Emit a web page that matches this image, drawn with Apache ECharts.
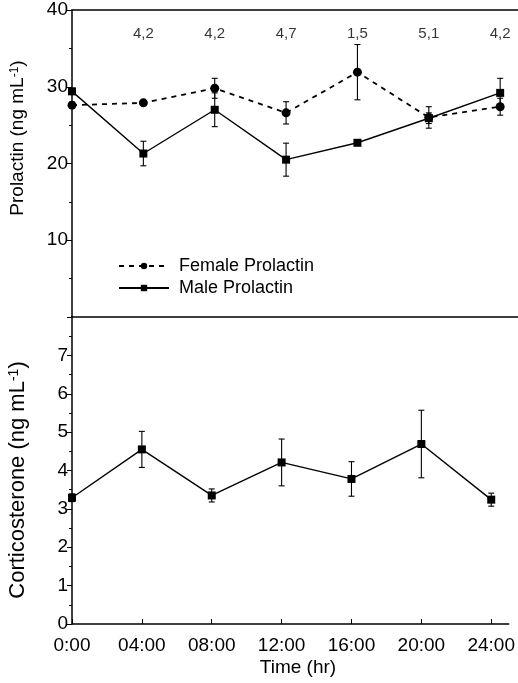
<!DOCTYPE html>
<html>
<head>
<meta charset="utf-8">
<script src="https://cdn.jsdelivr.net/npm/echarts@6/dist/echarts.min.js"></script>
<style>
html,body{margin:0;padding:0;background:#fff;}
#chart{width:518px;height:683px;}
</style>
</head>
<body>
<div id="chart"></div>
<script>
// time points (hr)
var times = [0, 4, 8, 12, 16, 20, 24];
var timeLabels = ['0:00', '04:00', '08:00', '12:00', '16:00', '20:00', '24:00'];

// prolactin, ng/mL (mean and half error bar)
var femaleProl = [27.6, 27.9, 29.8, 26.6, 31.9, 26.0, 27.4];
var femaleProlErr = [0.4, 0.3, 1.3, 1.45, 3.6, 1.4, 1.1];
var maleProl = [29.4, 21.3, 27.0, 20.5, 22.7, 25.9, 29.2];
var maleProlErr = [0.4, 1.6, 2.2, 2.15, 0.3, 0.7, 1.9];

// corticosterone, ng/mL
var cort = [3.29, 4.55, 3.35, 4.21, 3.78, 4.69, 3.24];
var cortErr = [0.1, 0.47, 0.17, 0.61, 0.45, 0.88, 0.17];

// numbers written above the top panel
var noteTimes = [4, 8, 12, 16, 20, 24];
var noteText = ['4,2', '4,2', '4,7', '1,5', '5,1', '4,2'];

var font = 'Liberation Sans, Arial, sans-serif';

function pairs(xs, ys){
	var out = [];
	for(var i=0;i<xs.length;i++){
		out.push([xs[i], ys[i]]);
	}
	return out;
}
function errData(xs, ys, es){
	var out = [];
	for(var i=0;i<xs.length;i++){
		out.push([xs[i], ys[i]-es[i], ys[i]+es[i]]);
	}
	return out;
}
function errRender(params, api){
	var x = api.value(0);
	var top = api.coord([x, api.value(2)]);
	var bot = api.coord([x, api.value(1)]);
	var w = 3;
	var st = {stroke:'#000', lineWidth:1.1};
	return {
		type:'group',
		children:[
			{type:'line', shape:{x1:top[0], y1:top[1], x2:bot[0], y2:bot[1]}, style:st},
			{type:'line', shape:{x1:top[0]-w, y1:top[1], x2:top[0]+w, y2:top[1]}, style:st},
			{type:'line', shape:{x1:bot[0]-w, y1:bot[1], x2:bot[0]+w, y2:bot[1]}, style:st}
		]
	};
}

var myChart = echarts.init(document.getElementById('chart'));

var lineOnly = {
	min:0, max:25,
	axisLine:{show:true, lineStyle:{color:'#000', width:1.5}},
	axisTick:{show:false},
	axisLabel:{show:false},
	splitLine:{show:false}
};

var option = {
	animation:false,
	backgroundColor:'#fff',
	textStyle:{fontFamily:font, color:'#000'},
	grid:[
		{left:72, top:10, width:447, height:307},
		{left:72, top:317, width:447, height:307}
	],
	legend:{
		orient:'vertical',
		left:113,
		top:252,
		itemWidth:50,
		itemHeight:8,
		itemGap:4,
		data:['Female Prolactin', 'Male Prolactin'],
		textStyle:{fontSize:18, color:'#000', fontFamily:font, padding:[0,0,0,5]}
	},
	xAxis:[
		Object.assign({gridIndex:0, type:'value', position:'bottom'}, lineOnly),
		Object.assign({gridIndex:0, type:'value', position:'top'}, lineOnly),
		{
			gridIndex:1, type:'value', position:'bottom',
			min:0, max:25, interval:4,
			axisLine:{show:true, lineStyle:{color:'#000', width:1.5}},
			axisTick:{show:true, inside:true, length:5, customValues:times, lineStyle:{color:'#000'}},
			axisLabel:{
				customValues:times,
				margin:12,
				fontSize:19,
				color:'#000',
				fontFamily:font,
				formatter:function(v){
					var i = times.indexOf(v);
					return i < 0 ? '' : timeLabels[i];
				}
			},
			splitLine:{show:false}
		}
	],
	yAxis:[
		{
			gridIndex:0, type:'value', min:0, max:40, interval:10,
			axisLine:{show:true, lineStyle:{color:'#000', width:1.5}},
			axisTick:{show:true, length:5, lineStyle:{color:'#000'}},
			minorTick:{show:true, splitNumber:2, length:3, lineStyle:{color:'#000'}},
			axisLabel:{showMinLabel:false, margin:4, fontSize:19, color:'#000', fontFamily:font},
			splitLine:{show:false}
		},
		{
			gridIndex:1, type:'value', min:0, max:8, interval:1,
			axisLine:{show:true, lineStyle:{color:'#000', width:1.5}},
			axisTick:{show:true, length:5, lineStyle:{color:'#000'}},
			minorTick:{show:true, splitNumber:2, length:3, lineStyle:{color:'#000'}},
			axisLabel:{showMaxLabel:false, margin:4, fontSize:19, color:'#000', fontFamily:font},
			splitLine:{show:false}
		}
	],
	graphic:[
		{
			type:'text', x:18, y:138, rotation:Math.PI/2,
			style:{
				text:'{a|Prolactin (ng mL}{s|-1}{a|)}',
				align:'center', verticalAlign:'middle',
				rich:{
					a:{fontSize:19, fontFamily:font, fill:'#000'},
					s:{fontSize:12, fontFamily:font, fill:'#000', verticalAlign:'top'}
				}
			}
		},
		{
			type:'text', x:18, y:480, rotation:Math.PI/2,
			style:{
				text:'{a|Corticosterone (ng mL}{s|-1}{a|)}',
				align:'center', verticalAlign:'middle',
				rich:{
					a:{fontSize:22, fontFamily:font, fill:'#000'},
					s:{fontSize:14, fontFamily:font, fill:'#000', verticalAlign:'top'}
				}
			}
		},
		{
			type:'text', x:298, y:668,
			style:{text:'Time (hr)', fontSize:19, fontFamily:font, fill:'#000', align:'center', verticalAlign:'middle'}
		}
	],
	series:[
		{
			name:'Female Prolactin', type:'line', xAxisIndex:0, yAxisIndex:0,
			data:pairs(times, femaleProl),
			symbol:'circle', symbolSize:9,
			itemStyle:{color:'#000'},
			lineStyle:{color:'#000', width:1.8, type:[5,5]},
			z:3
		},
		{
			name:'Male Prolactin', type:'line', xAxisIndex:0, yAxisIndex:0,
			data:pairs(times, maleProl),
			symbol:'rect', symbolSize:8,
			itemStyle:{color:'#000'},
			lineStyle:{color:'#000', width:1.4},
			z:3
		},
		{
			type:'custom', xAxisIndex:0, yAxisIndex:0,
			renderItem:errRender,
			data:errData(times, femaleProl, femaleProlErr),
			z:2
		},
		{
			type:'custom', xAxisIndex:0, yAxisIndex:0,
			renderItem:errRender,
			data:errData(times, maleProl, maleProlErr),
			z:2
		},
		{
			type:'scatter', xAxisIndex:0, yAxisIndex:0,
			data:pairs(noteTimes, noteTimes.map(function(){ return 40; })),
			symbolSize:1,
			itemStyle:{color:'rgba(0,0,0,0)'},
			label:{
				show:true, position:'bottom', distance:16,
				fontSize:15, color:'#000', fontFamily:font,
				formatter:function(p){ return noteText[p.dataIndex]; }
			},
			silent:true
		},
		{
			name:'Corticosterone', type:'line', xAxisIndex:2, yAxisIndex:1,
			data:pairs(times, cort),
			symbol:'rect', symbolSize:8,
			itemStyle:{color:'#000'},
			lineStyle:{color:'#000', width:1.4},
			z:3
		},
		{
			type:'custom', xAxisIndex:2, yAxisIndex:1,
			renderItem:errRender,
			data:errData(times, cort, cortErr),
			z:2
		}
	]
};
myChart.setOption(option);
</script>
</body>
</html>
